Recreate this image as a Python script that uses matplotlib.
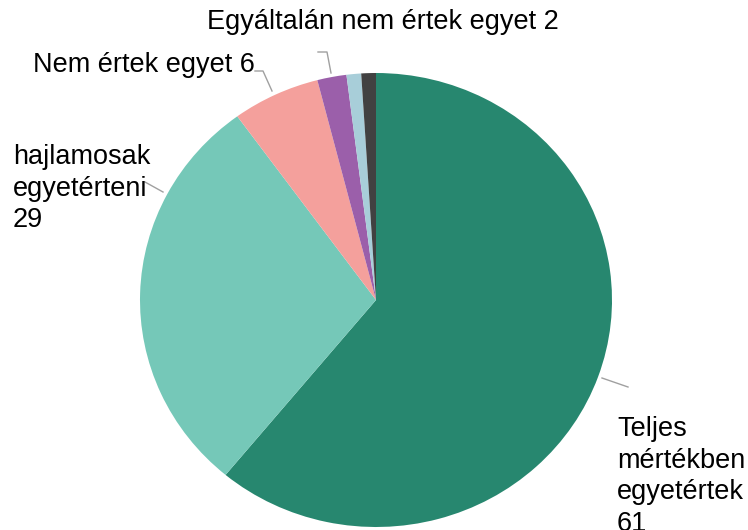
import matplotlib.pyplot as plt

# slice values, clockwise from 12 o'clock
labels = ["Teljes\nmértékben\negyetértek", "hajlamosak\negyetérteni", "Nem értek egyet",
          "Egyáltalán nem értek egyet", "", ""]
values = [61, 29, 6, 2, 1, 1]
colors = ["#27876f", "#75c8b8", "#f4a09c", "#9b5faa", "#a8ced9", "#414141"]

plt.rcParams['font.family'] = ['Liberation Sans', 'DejaVu Sans']

W, H = 748, 530
fig = plt.figure(figsize=(W / 100, H / 100), dpi=100)

# pie is a bit wider than tall in the reference
cx, cy, rx, ry = 376, 300, 236, 227
ax = fig.add_axes([(cx - rx) / W, (H - cy - ry) / H, 2 * rx / W, 2 * ry / H])
ax.pie(values, colors=colors, startangle=90, counterclock=False,
       wedgeprops=dict(linewidth=0))
ax.set_aspect('auto')
ax.set_xlim(-1, 1)
ax.set_ylim(-1, 1)
ax.axis('off')

# overlay axes in pixel coords for labels and leader lines
lay = fig.add_axes([0, 0, 1, 1])
lay.set_xlim(0, W)
lay.set_ylim(H, 0)
lay.axis('off')
lay.patch.set_alpha(0)

# (text x, text y, va, leader line points)
layout = [
    (617, 416, "top", [(602, 378), (628, 387)]),
    (13, 144, "top", [(145, 182), (163, 192)]),
    (33, 65, "center", [(255, 71), (263, 71), (272, 91)]),
    (207, 22, "center", [(318, 52), (327, 52), (331, 73)]),
]

for i, (tx, ty, va, pts) in enumerate(layout):
    if i < 2:
        txt = "{0}\n{1}".format(labels[i], values[i])
    else:
        txt = "{0} {1}".format(labels[i], values[i])
    lay.text(tx, ty, txt, fontsize=19.5, ha="left", va=va, linespacing=1.28, color="black")
    xs = [p[0] for p in pts]
    ys = [p[1] for p in pts]
    lay.plot(xs, ys, color="#a0a0a0", lw=1)

fig.savefig("out.png", dpi=100)
